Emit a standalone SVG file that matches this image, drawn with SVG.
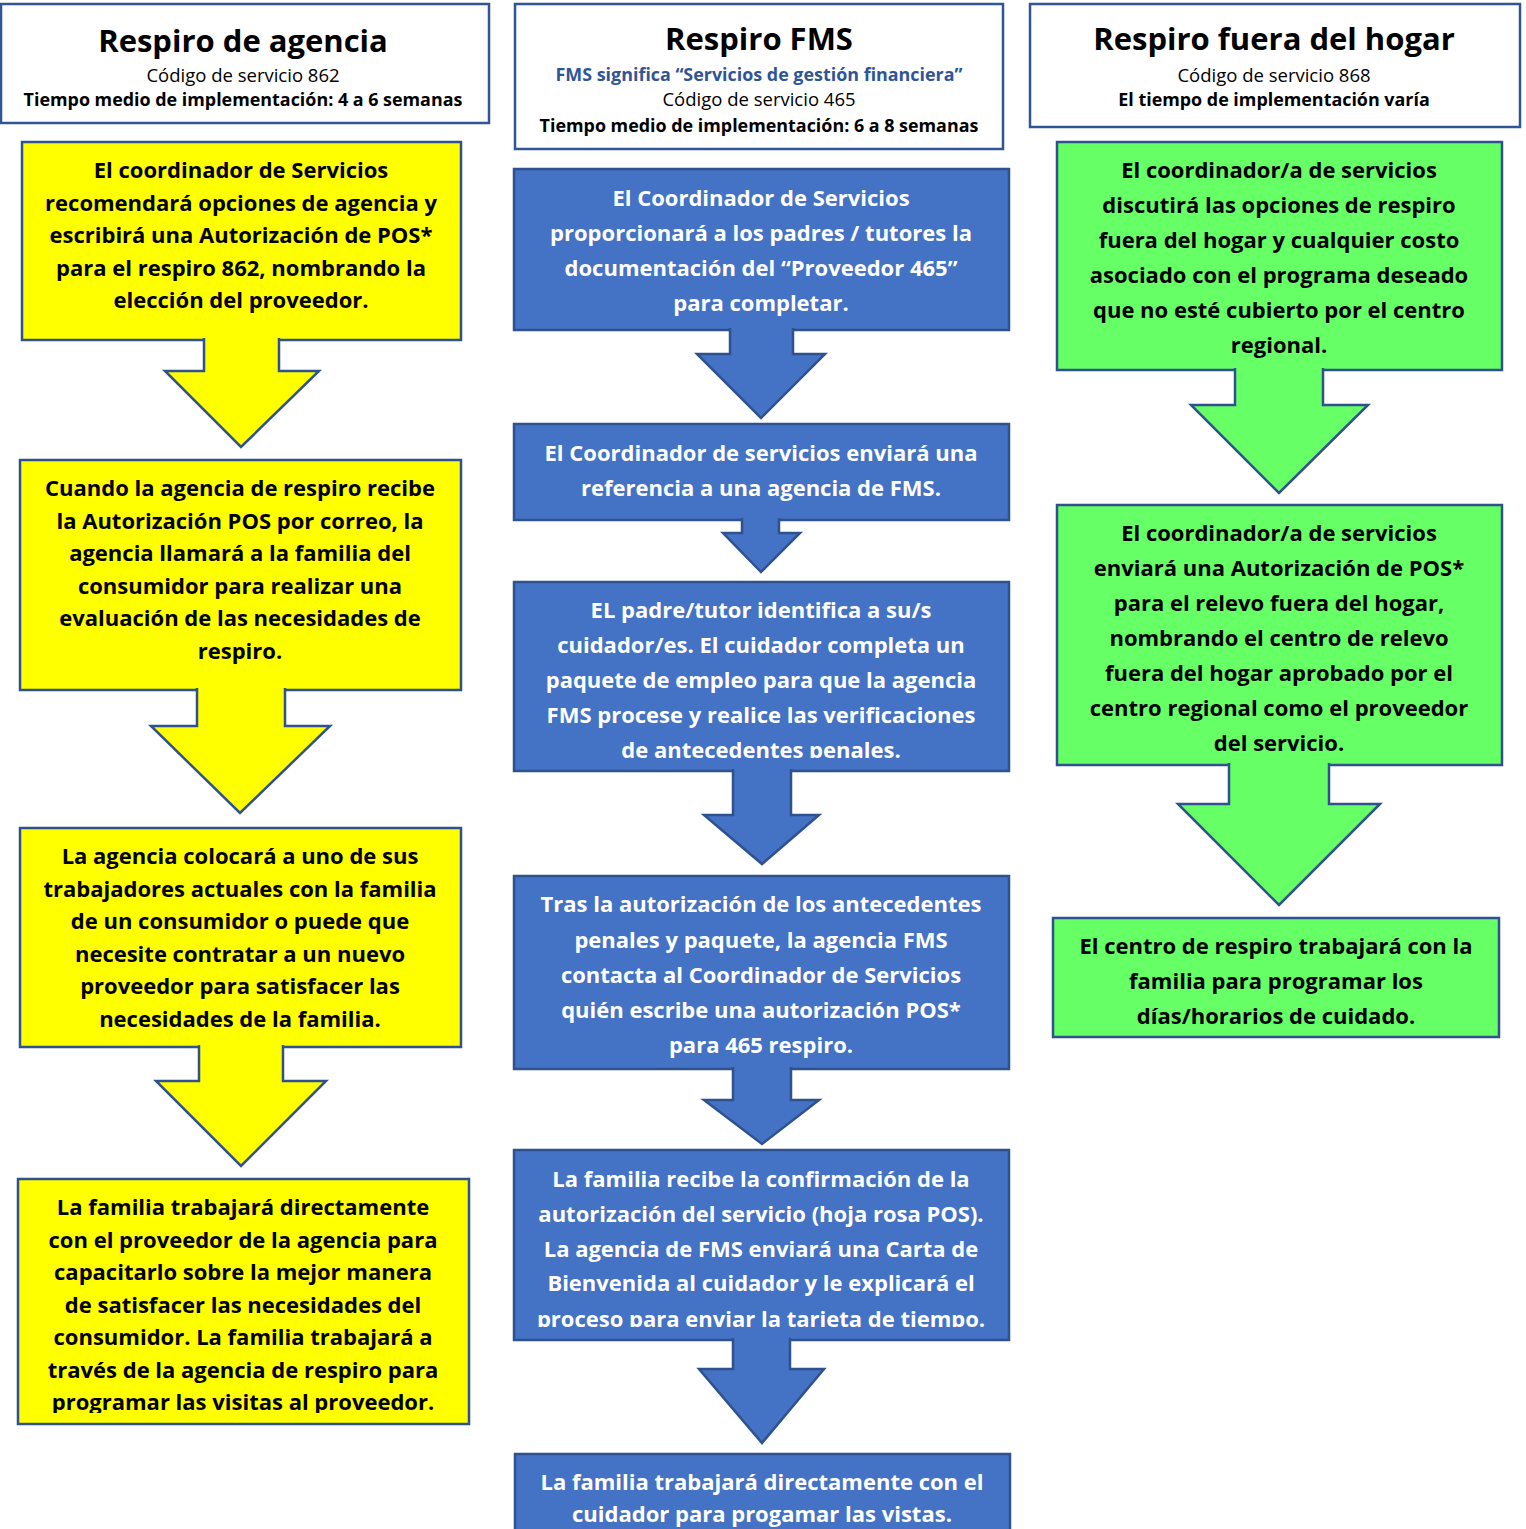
<svg xmlns="http://www.w3.org/2000/svg" width="1526" height="1529" viewBox="0 0 1526 1529">
<style>
.hdr{fill:#fff;stroke:#2F5597;stroke-width:2.5}
.y{fill:#FFFF00;stroke:#2F528F;stroke-width:2.5}
.b{fill:#4472C4;stroke:#2F528F;stroke-width:2.5}
.g{fill:#66FF66;stroke:#2F528F;stroke-width:2.5}
text{font-family:"Open Sans","Noto Sans",sans-serif;text-anchor:middle}
.title{font-size:31px;font-weight:700;fill:#000}
.sub{font-size:18.5px;fill:#000}
.subb{font-size:17.9px;font-weight:700;fill:#000}
.subblue{font-size:17.9px;font-weight:700;fill:#2F5597}
.tk{font-size:22px;font-weight:700;fill:#000}
.tw{font-size:22px;font-weight:700;fill:#fff}
</style>
<defs>
<clipPath id="c1"><rect x="0" y="0" width="1526" height="1413"/></clipPath>
<clipPath id="c2"><rect x="0" y="0" width="1526" height="758"/></clipPath>
<clipPath id="c3"><rect x="0" y="0" width="1526" height="1327"/></clipPath>
</defs>

<g id="header-agencia">
<rect class="hdr" x="1" y="4" width="488" height="119"/>
<text class="title" x="243" y="52">Respiro de agencia</text>
<text class="sub" x="243" y="82">Código de servicio 862</text>
<text class="subb" x="243" y="106">Tiempo medio de implementación: 4 a 6 semanas</text>
</g>
<g id="header-fms">
<rect class="hdr" x="515" y="4" width="488" height="145"/>
<text class="title" x="759" y="50">Respiro FMS</text>
<text class="subblue" x="759" y="81">FMS significa “Servicios de gestión financiera”</text>
<text class="sub" x="759" y="106">Código de servicio 465</text>
<text class="subb" x="759" y="132">Tiempo medio de implementación: 6 a 8 semanas</text>
</g>
<g id="header-hogar">
<rect class="hdr" x="1030" y="4" width="490" height="123"/>
<text class="title" x="1274" y="50">Respiro fuera del hogar</text>
<text class="sub" x="1274" y="82">Código de servicio 868</text>
<text class="subb" x="1274" y="106">El tiempo de implementación varía</text>
</g>

<g id="a1">
<rect class="y" x="22" y="142" width="439" height="198"/>
<text class="tk" x="241" y="178">El coordinador de Servicios</text>
<text class="tk" x="241" y="210.5">recomendará opciones de agencia y</text>
<text class="tk" x="241" y="243">escribirá una Autorización de POS*</text>
<text class="tk" x="241" y="275.5">para el respiro 862, nombrando la</text>
<text class="tk" x="241" y="308">elección del proveedor.</text>
</g>
<g id="a2">
<rect class="y" x="20" y="460" width="441" height="230"/>
<text class="tk" x="240" y="496">Cuando la agencia de respiro recibe</text>
<text class="tk" x="240" y="528.5">la Autorización POS por correo, la</text>
<text class="tk" x="240" y="561">agencia llamará a la familia del</text>
<text class="tk" x="240" y="593.5">consumidor para realizar una</text>
<text class="tk" x="240" y="626">evaluación de las necesidades de</text>
<text class="tk" x="240" y="658.5">respiro.</text>
</g>
<g id="a3">
<rect class="y" x="20" y="828" width="441" height="219"/>
<text class="tk" x="240" y="864">La agencia colocará a uno de sus</text>
<text class="tk" x="240" y="896.5">trabajadores actuales con la familia</text>
<text class="tk" x="240" y="929">de un consumidor o puede que</text>
<text class="tk" x="240" y="961.5">necesite contratar a un nuevo</text>
<text class="tk" x="240" y="994">proveedor para satisfacer las</text>
<text class="tk" x="240" y="1026.5">necesidades de la familia.</text>
</g>
<g id="a4">
<rect class="y" x="18" y="1179" width="451" height="245"/>
<g clip-path="url(#c1)">
<text class="tk" x="243" y="1215">La familia trabajará directamente</text>
<text class="tk" x="243" y="1247.5">con el proveedor de la agencia para</text>
<text class="tk" x="243" y="1280">capacitarlo sobre la mejor manera</text>
<text class="tk" x="243" y="1312.5">de satisfacer las necesidades del</text>
<text class="tk" x="243" y="1345">consumidor. La familia trabajará a</text>
<text class="tk" x="243" y="1377.5">través de la agencia de respiro para</text>
<text class="tk" x="243" y="1410">programar las visitas al proveedor.</text>
</g>
</g>

<g id="f1">
<rect class="b" x="514" y="169" width="495" height="161"/>
<text class="tw" x="761" y="206">El Coordinador de Servicios</text>
<text class="tw" x="761" y="241">proporcionará a los padres / tutores la</text>
<text class="tw" x="761" y="276">documentación del “Proveedor 465”</text>
<text class="tw" x="761" y="311">para completar.</text>
</g>
<g id="f2">
<rect class="b" x="514" y="424" width="495" height="96"/>
<text class="tw" x="761" y="461">El Coordinador de servicios enviará una</text>
<text class="tw" x="761" y="496">referencia a una agencia de FMS.</text>
</g>
<g id="f3">
<rect class="b" x="514" y="582" width="495" height="189"/>
<g clip-path="url(#c2)">
<text class="tw" x="761" y="618">EL padre/tutor identifica a su/s</text>
<text class="tw" x="761" y="653">cuidador/es. El cuidador completa un</text>
<text class="tw" x="761" y="688">paquete de empleo para que la agencia</text>
<text class="tw" x="761" y="723">FMS procese y realice las verificaciones</text>
<text class="tw" x="761" y="758">de antecedentes penales.</text>
</g>
</g>
<g id="f4">
<rect class="b" x="514" y="876" width="495" height="193"/>
<text class="tw" x="761" y="912">Tras la autorización de los antecedentes</text>
<text class="tw" x="761" y="948">penales y paquete, la agencia FMS</text>
<text class="tw" x="761" y="983">contacta al Coordinador de Servicios</text>
<text class="tw" x="761" y="1018">quién escribe una autorización POS*</text>
<text class="tw" x="761" y="1053">para 465 respiro.</text>
</g>
<g id="f5">
<rect class="b" x="514" y="1150" width="495" height="190"/>
<g clip-path="url(#c3)">
<text class="tw" x="761" y="1187">La familia recibe la confirmación de la</text>
<text class="tw" x="761" y="1222">autorización del servicio (hoja rosa POS).</text>
<text class="tw" x="761" y="1257">La agencia de FMS enviará una Carta de</text>
<text class="tw" x="761" y="1291">Bienvenida al cuidador y le explicará el</text>
<text class="tw" x="761" y="1327">proceso para enviar la tarjeta de tiempo.</text>
</g>
</g>
<g id="f6">
<rect class="b" x="515" y="1454" width="495" height="90"/>
<text class="tw" x="762" y="1490">La familia trabajará directamente con el</text>
<text class="tw" x="762" y="1522">cuidador para progamar las vistas.</text>
</g>

<g id="h1">
<rect class="g" x="1057" y="142" width="445" height="228"/>
<text class="tk" x="1279" y="178">El coordinador/a de servicios</text>
<text class="tk" x="1279" y="213">discutirá las opciones de respiro</text>
<text class="tk" x="1279" y="248">fuera del hogar y cualquier costo</text>
<text class="tk" x="1279" y="283">asociado con el programa deseado</text>
<text class="tk" x="1279" y="318">que no esté cubierto por el centro</text>
<text class="tk" x="1279" y="353">regional.</text>
</g>
<g id="h2">
<rect class="g" x="1057" y="505" width="445" height="260"/>
<text class="tk" x="1279" y="541">El coordinador/a de servicios</text>
<text class="tk" x="1279" y="576">enviará una Autorización de POS*</text>
<text class="tk" x="1279" y="611">para el relevo fuera del hogar,</text>
<text class="tk" x="1279" y="646">nombrando el centro de relevo</text>
<text class="tk" x="1279" y="681">fuera del hogar aprobado por el</text>
<text class="tk" x="1279" y="716">centro regional como el proveedor</text>
<text class="tk" x="1279" y="751">del servicio.</text>
</g>
<g id="h3">
<rect class="g" x="1053" y="918" width="446" height="119"/>
<text class="tk" x="1276" y="954">El centro de respiro trabajará con la</text>
<text class="tk" x="1276" y="989">familia para programar los</text>
<text class="tk" x="1276" y="1024">días/horarios de cuidado.</text>
</g>

<g id="connectors">
<path class="y" d="M204,338 V371 H165 L241,447 L319,371 H279 V338"/>
<path class="y" d="M197,688 V726 H151 L240,813 L330,726 H285 V688"/>
<path class="y" d="M199,1045 V1081 H156 L241,1166 L326,1081 H283 V1045"/>
<path class="b" d="M730,328 V354 H697 L761,418 L825,354 H793 V328"/>
<path class="b" d="M742,518 V533 H723 L761,572 L800,533 H779 V518"/>
<path class="b" d="M733,769 V815 H704 L762,864 L819,815 H791 V769"/>
<path class="b" d="M733,1067 V1100 H704 L762,1144 L819,1100 H791 V1067"/>
<path class="b" d="M733,1338 V1369 H699 L762,1443 L824,1369 H790 V1338"/>
<path class="g" d="M1235,368 V405 H1191 L1279,493 L1368,405 H1323 V368"/>
<path class="g" d="M1229,763 V804 H1178 L1279,905 L1380,804 H1329 V763"/>
</g>
</svg>
